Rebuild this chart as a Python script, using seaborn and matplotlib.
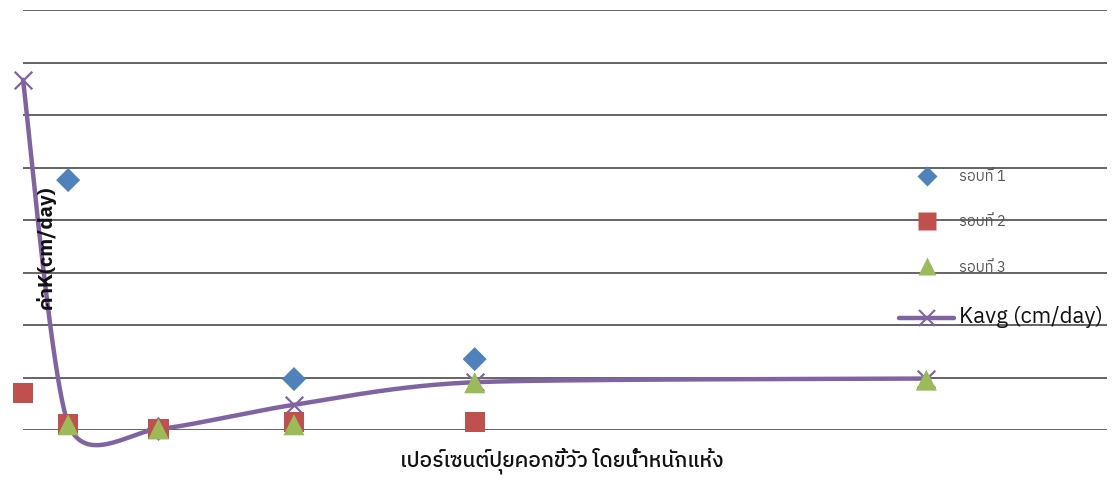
import numpy as np
import pandas as pd
import matplotlib
matplotlib.use("Agg")
import matplotlib.pyplot as plt
import seaborn as sns
from matplotlib import font_manager
from matplotlib.ft2font import FT2Font
from matplotlib.lines import Line2D

# Percent of cow manure (dry weight) and measured K values (cm/day)
manure_pct = [0, 1, 3, 6, 10, 20]
round1 = [np.nan, 4.76, 0.02, 0.97, 1.35, np.nan]
round2 = [0.70, 0.11, 0.02, 0.15, 0.15, np.nan]
round3 = [np.nan, 0.10, 0.02, 0.10, 0.90, 0.95]
k_avg = [6.67, 0.12, 0.02, 0.48, 0.91, 0.98]

series_labels = ["รอบที่ 1", "รอบที่ 2", "รอบที่ 3"]
avg_label = "Kavg (cm/day)"
x_title = "เปอร์เซนต์ปุยคอกขี้วัว โดยน้ำหนักแห้ง"
y_title = "ค่าK(cm/day)"


def thai_family():
    names = []
    for f in font_manager.fontManager.ttflist:
        try:
            if 0x0E23 in FT2Font(f.fname).get_charmap():
                names.append(f.name)
        except Exception:
            pass
    names.sort(key=lambda n: (0 if "Thai" in n else 1, n))
    return names[0] if names else "DejaVu Sans"


def smooth_curve(xs, ys, steps=60, tension=8.0):
    """Cubic Bezier smoothing through the points (Catmull-Rom style tangents)."""
    p = np.column_stack([xs, ys]).astype(float)
    n = len(p)
    out = []
    for i in range(n - 1):
        p0 = p[i - 1] if i > 0 else p[i]
        p1, p2 = p[i], p[i + 1]
        p3 = p[i + 2] if i + 2 < n else p[i + 1]
        c1 = p1 + (p2 - p0) / tension
        c2 = p2 - (p3 - p1) / tension
        t = np.linspace(0, 1, steps)[:, None]
        seg = ((1 - t) ** 3) * p1 + 3 * ((1 - t) ** 2) * t * c1 + 3 * (1 - t) * t ** 2 * c2 + t ** 3 * p2
        out.append(seg if i == 0 else seg[1:])
    seg = np.vstack(out)
    return seg[:, 0], seg[:, 1]


sns.set_style("white")
thai = thai_family()
plt.rcParams["font.family"] = [thai, "DejaVu Sans"]

BLUE, RED, GREEN, PURPLE = "#4F81BD", "#C0504D", "#9BBB59", "#8064A2"

fig = plt.figure(figsize=(11.12, 4.8), dpi=100)
ax = fig.add_axes([23 / 1112, 1 - 430 / 480, (1107 - 23) / 1112, 420 / 480])

df = pd.DataFrame({"pct": manure_pct, "r1": round1, "r2": round2,
                   "r3": round3, "kavg": k_avg})

# Smoothed average line with X markers at the data points
sx, sy = smooth_curve(df["pct"], df["kavg"])
ax.plot(sx, sy, color=PURPLE, lw=3.2, solid_capstyle="round", zorder=3, clip_on=False)
sns.scatterplot(data=df, x="pct", y="kavg", marker="x", s=160, color=PURPLE,
                linewidth=1.6, ax=ax, zorder=3, clip_on=False, legend=False)

sns.scatterplot(data=df, x="pct", y="r1", marker="D", s=150, color=BLUE,
                edgecolor="none", ax=ax, zorder=4, clip_on=False, legend=False)
sns.scatterplot(data=df, x="pct", y="r2", marker="s", s=210, color=RED,
                edgecolor="none", ax=ax, zorder=5, clip_on=False, legend=False)
sns.scatterplot(data=df, x="pct", y="r3", marker="^", s=230, color=GREEN,
                edgecolor="none", ax=ax, zorder=6, clip_on=False, legend=False)

ax.set_xlim(0, 24)
ax.set_ylim(0, 8)
ax.set_yticks(np.arange(0, 9, 1))
ax.set_xticks([])
ax.yaxis.grid(True, color="#3a3a3a", lw=1.1)
ax.xaxis.grid(False)
ax.tick_params(left=False, bottom=False, labelleft=False, labelbottom=False)
for s in ax.spines.values():
    s.set_visible(False)
ax.set_xlabel("")
ax.set_ylabel("")

fig.text(562 / 1112, 1 - 461 / 480, x_title, ha="center", va="center",
         fontsize=15, fontweight="medium", color="#111111")
fig.text(46 / 1112, 1 - 247 / 480, y_title, ha="center", va="center",
         rotation=90, fontsize=14.5, fontweight="bold", color="#111111")

handles = [
    Line2D([], [], ls="none", marker="D", ms=10, color=BLUE, mec="none"),
    Line2D([], [], ls="none", marker="s", ms=12.5, color=RED, mec="none"),
    Line2D([], [], ls="none", marker="^", ms=13, color=GREEN, mec="none"),
    Line2D([], [], color=PURPLE, lw=3.2, marker="x", ms=12, mew=1.5),
]
leg = ax.legend(handles, series_labels + [avg_label], loc="upper left",
                bbox_to_anchor=(893 / 1112, 1 - 164 / 480), bbox_transform=fig.transFigure,
                frameon=False, fontsize=10.5, handlelength=3.8, handletextpad=0.35,
                labelspacing=2.15, borderaxespad=0)
for i, t in enumerate(leg.get_texts()):
    if i < 3:
        t.set_color("#555555")
    else:
        t.set_fontsize(16)
        t.set_color("#111111")

fig.savefig("out.png", dpi=100)
